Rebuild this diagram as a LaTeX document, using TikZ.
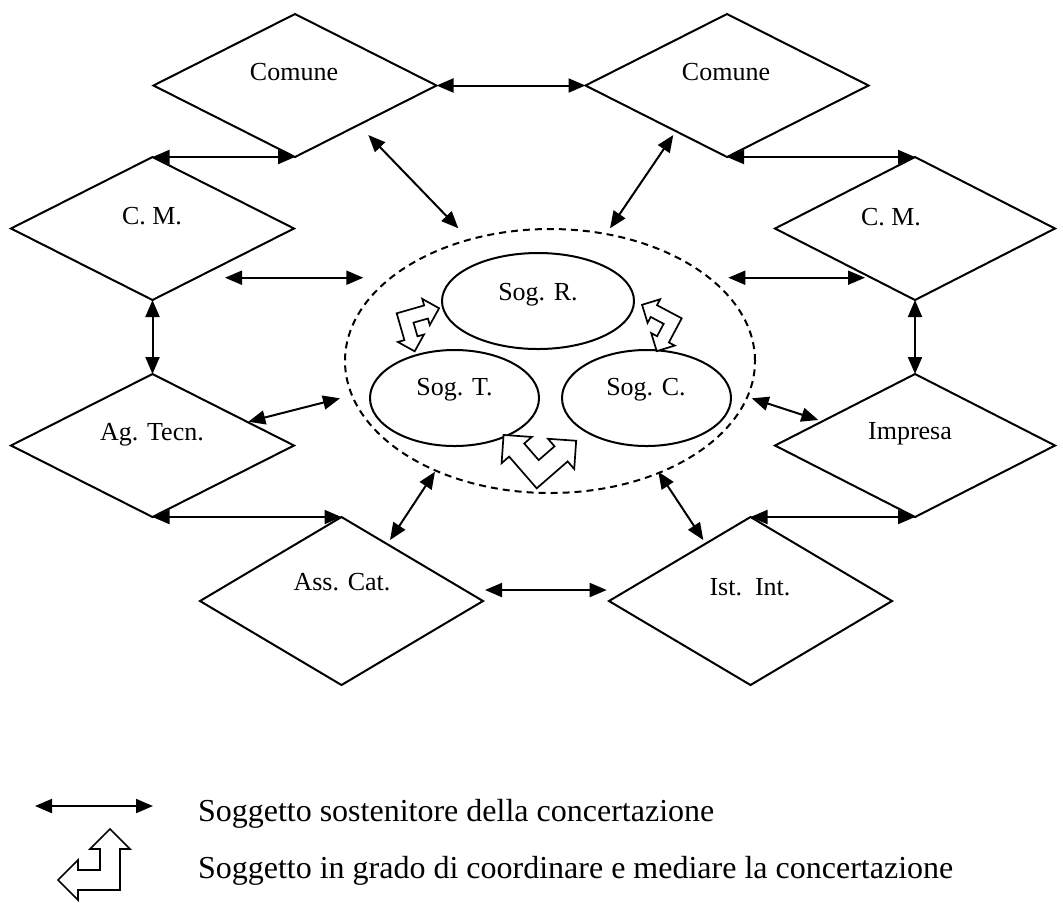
\documentclass[tikz,border=0pt]{standalone}
\usepackage{fontspec}
\setmainfont{Liberation Serif}
\usetikzlibrary{shapes.geometric,arrows.meta}
\tikzset{
  dia/.style={draw, shape=diamond, inner sep=0pt, outer sep=0pt, minimum width=141.5pt, minimum height=71.5pt},
  tall/.style={minimum height=84pt},
  ell/.style={draw, shape=ellipse, inner sep=0pt, outer sep=0pt},
  lab/.style={anchor=base, inner sep=0pt, font=\fontsize{13}{15}\selectfont},
  leg/.style={anchor=base west, inner sep=0pt, font=\fontsize{16}{19}\selectfont},
  dbl/.style={{Triangle[length=8.5pt,width=7pt]}-{Triangle[length=8.5pt,width=7pt]}},
  uturn/.pic={\draw[fill=white, line width=0.85pt, line join=miter]
    (-10,-61) -- (10,-41) -- (0,-41) -- (0,0) -- (-42,0) -- (-42,10) -- (-62,-10)
    -- (-42,-30) -- (-42,-20) -- (-20,-20) -- (-20,-41) -- (-30,-41) -- cycle;}
}
\begin{document}
\begin{tikzpicture}[x=0.5pt,y=-0.5pt,line width=1pt]
\useasboundingbox (0,0) rectangle (1063,902);
% diamonds
\node[dia] (cl) at (295,85.5) {};
\node[dia] (cr) at (727,85.5) {};
\node[dia] (ml) at (152.5,228.5) {};
\node[dia, minimum width=140pt] (mr) at (915,228.5) {};
\node[dia] (at) at (152.5,445.5) {};
\node[dia, minimum width=140pt] (im) at (915,445.5) {};
\node[dia, tall] (ac) at (341.5,601) {};
\node[dia, tall] (ii) at (750.5,601) {};
% labels
\node[lab] (tcl) at (294,80) {Comune};
\node[lab] (tcr) at (726,80) {Comune};
\node[lab] (tml) at (152,224) {C. M.};
\node[lab] (tmr) at (891,225) {C. M.};
\node[lab] (tat) at (152,440) {Ag. Tecn.};
\node[lab] (tim) at (910,439) {Impresa};
\node[lab] (tac) at (342,590) {Ass. Cat.};
\node[lab] (tii) at (750,595) {Ist.\ \ Int.};
% ellipses
\node[ell, dashed, dash pattern=on 3.5pt off 2.5pt, minimum width=205pt, minimum height=132pt] (grp) at (550,361) {};
\node[ell, minimum width=96pt, minimum height=48pt] (sr) at (538,301) {};
\node[ell, minimum width=84.5pt, minimum height=48pt] (st) at (454.5,398) {};
\node[ell, minimum width=84.5pt, minimum height=48pt] (sc) at (646.5,398) {};
\node[lab] (tsr) at (538,300) {Sog. R.};
\node[lab] (tst) at (454.5,395) {Sog. T.};
\node[lab] (tsc) at (646,395) {Sog. C.};
% hollow bent arrows
\pic[rotate=-164, scale=0.68] at (396.7,313.3) {uturn};
\pic[rotate=-28, scale=0.667, yscale=-1] at (681.7,318.3) {uturn};
\pic[rotate=-49] at (536.7,488.3) {uturn};
% free connector ends
\coordinate (a4a) at (368.3,135);   \coordinate (a4b) at (458.3,228.3);
\coordinate (a5a) at (673.3,135);   \coordinate (a5b) at (610,228.3);
\coordinate (a6a) at (225,277.7);   \coordinate (a6b) at (363.3,277.7);
\coordinate (a7a) at (728.3,277.7); \coordinate (a7b) at (865,277.7);
\coordinate (a10a) at (248.3,421.7); \coordinate (a10b) at (340,398.3);
\coordinate (a11a) at (818.3,420);  \coordinate (a11b) at (751.7,398.3);
\coordinate (a14a) at (390,540);    \coordinate (a14b) at (435,471.7);
\coordinate (a15a) at (703.3,540);  \coordinate (a15b) at (658.3,471.7);
\coordinate (a16a) at (485,590);    \coordinate (a16b) at (606.7,590);
% connectors
\draw[dbl] (cl.east) -- (cr.west);
\draw[dbl] (ml.north) -- (cl.south);
\draw[dbl] (cr.south) -- (mr.north);
\draw[dbl] (a4a) -- (a4b);
\draw[dbl] (a5a) -- (a5b);
\draw[dbl] (a6a) -- (a6b);
\draw[dbl] (a7a) -- (a7b);
\draw[dbl] (ml.south) -- (at.north);
\draw[dbl] (mr.south) -- (im.north);
\draw[dbl] (a10a) -- (a10b);
\draw[dbl] (a11a) -- (a11b);
\draw[dbl] (at.south) -- (ac.north);
\draw[dbl] (ii.north) -- (im.south);
\draw[dbl] (a14a) -- (a14b);
\draw[dbl] (a15a) -- (a15b);
\draw[dbl] (a16a) -- (a16b);
% legend
\coordinate (l1) at (35,806); \coordinate (l2) at (153,806);
\draw[dbl] (l1) -- (l2);
\pic at (120,890) {uturn};
\node[leg] (lg1) at (197,821) {Soggetto sostenitore della concertazione};
\node[leg] (lg2) at (197,878) {Soggetto in grado di coordinare e mediare la concertazione};
\end{tikzpicture}
\end{document}
